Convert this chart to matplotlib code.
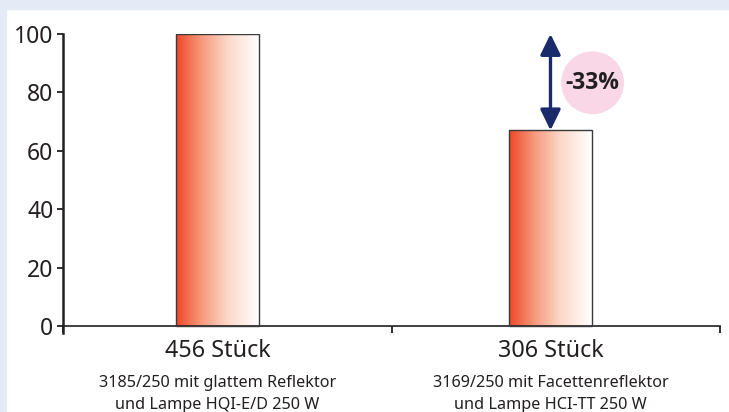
import numpy as np
import matplotlib
matplotlib.use("Agg")
import matplotlib.pyplot as plt
from matplotlib.colors import LinearSegmentedColormap
from matplotlib.patches import Rectangle
from matplotlib.transforms import blended_transform_factory

plt.rcParams['font.family'] = ['Noto Sans', 'DejaVu Sans']

# data
counts = ["456 Stück", "306 Stück"]
models = ["3185/250 mit glattem Reflektor", "3169/250 mit Facettenreflektor"]
lamps = ["und Lampe HQI-E/D 250 W", "und Lampe HCI-TT 250 W"]
values = [100, 67]
change_label = "-33%"
yticks = [0, 20, 40, 60, 80, 100]

W, H = 729, 412
TXT = '#231f20'
fig = plt.figure(figsize=(W / 100, H / 100), dpi=100, facecolor='white')

# light blue frame on top and left
fig.patches.append(Rectangle((0, 1 - 9 / H), 1, 9 / H, transform=fig.transFigure,
                             color='#e4ebf6', zorder=0))
fig.patches.append(Rectangle((0, 0), 6 / W, 1, transform=fig.transFigure,
                             color='#e4ebf6', zorder=0))

ax = fig.add_axes([63 / W, 1 - 333.3 / H, (720 - 63) / W, (333.3 - 34) / H])
ax.set_facecolor('none')

cmap = LinearSegmentedColormap.from_list(
    'redwhite', [(0, '#ee4726'), (0.3, '#f6987a'), (0.62, '#fcd8c8'), (1, '#ffffff')])
grad = np.linspace(0, 1, 256).reshape(1, -1)

pos = [0.47, 1.484]
bw = 0.251
bars = ax.bar(pos, values, width=bw, facecolor='none', edgecolor='#3a3a3a',
              linewidth=1.0, zorder=3)
for b in bars:
    x0, y0 = b.get_x(), b.get_y()
    ax.imshow(grad, cmap=cmap, aspect='auto', interpolation='bicubic',
              extent=(x0, x0 + b.get_width(), y0, y0 + b.get_height()), zorder=2)
ax.set_xlim(0, 2)
ax.set_ylim(-2.5, 100)

# spines / ticks
for s in ['top', 'right']:
    ax.spines[s].set_visible(False)
ax.spines['left'].set_linewidth(1.8)
ax.spines['left'].set_color(TXT)
ax.spines['bottom'].set_position(('data', 0))
ax.spines['bottom'].set_linewidth(1.2)
ax.spines['bottom'].set_color(TXT)
ax.set_yticks(yticks)
ax.set_xticks([0, 1, 2])
ax.set_xticklabels([])
ax.tick_params(axis='y', length=4, width=1.3, pad=3, labelsize=16.5,
               colors=TXT, labelcolor=TXT)
ax.tick_params(axis='x', length=5, width=1.3, colors=TXT)

# category labels under the bars
tr = blended_transform_factory(ax.transData, fig.transFigure)
for p, c, m, l in zip(pos, counts, models, lamps):
    ax.text(p, 1 - 357 / H, c, transform=tr, ha='center', va='baseline',
            fontsize=16.8, color=TXT)
    ax.text(p, 1 - 387 / H, m, transform=tr, ha='center', va='baseline',
            fontsize=11.7, color=TXT)
    ax.text(p, 1 - 409 / H, l, transform=tr, ha='center', va='baseline',
            fontsize=11.7, color=TXT)

# difference arrow and badge
ax.annotate('', xy=(pos[1], values[0]), xytext=(pos[1], values[1]),
            arrowprops=dict(arrowstyle='<|-|>,head_length=0.45,head_width=0.22',
                            color='#1b2a6b', lw=2.4,
                            mutation_scale=28, shrinkA=0, shrinkB=0), zorder=4)
ax.scatter([1.612], [83.3], s=2050, color='#f9d7e6', edgecolors='none', zorder=4)
ax.text(1.612, 83.3, change_label, ha='center', va='center', fontsize=16.5,
        fontweight='bold', family=['Open Sans', 'DejaVu Sans'], color=TXT, zorder=5)

fig.savefig('out.png', dpi=100)
